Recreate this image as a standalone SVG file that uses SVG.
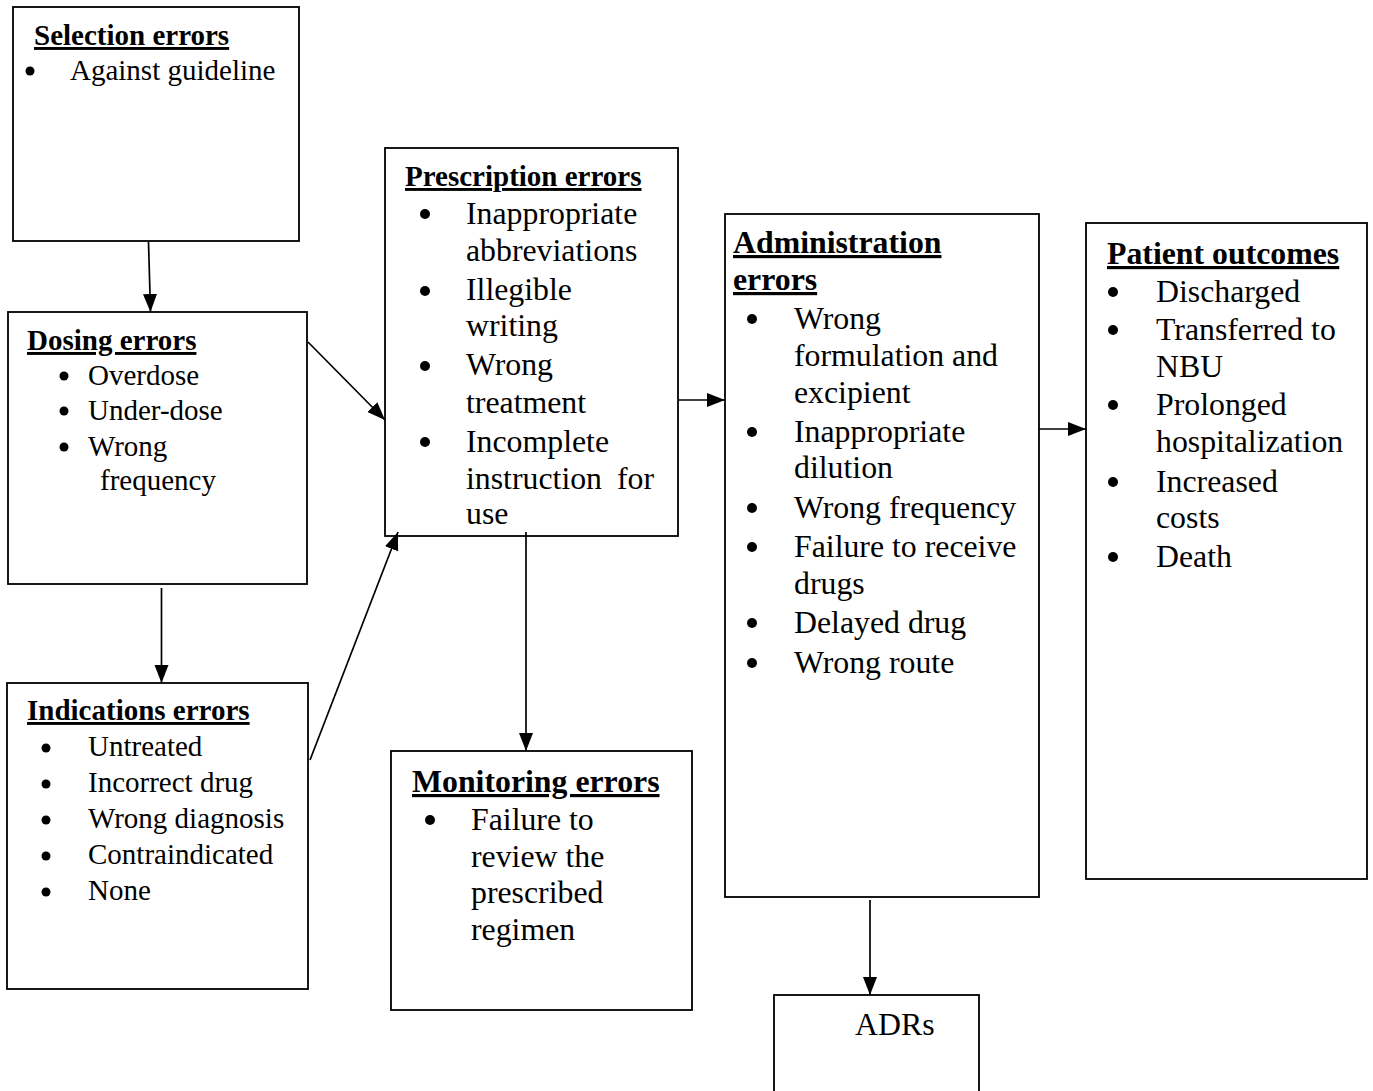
<svg xmlns="http://www.w3.org/2000/svg" width="1373" height="1091" viewBox="0 0 1373 1091">
<style>
.box{fill:#fff;stroke:#000;stroke-width:1.8}
text{font-family:"Liberation Serif","Times New Roman",serif;fill:#000}
.h{font-weight:bold;text-decoration:underline}
.s29{font-size:29px}
.s32{font-size:31.8px}
.c{stroke:#000;stroke-width:1.7;fill:none}
.b{fill:#000}
</style>
<defs>
<marker id="ah" markerUnits="userSpaceOnUse" markerWidth="18" markerHeight="16" viewBox="0 0 18 16" refX="18" refY="8" orient="auto">
<path d="M0,1 L18,8 L0,15 Z" fill="#000"/>
</marker>
</defs>
<rect width="1373" height="1091" fill="#fff"/>

<g id="selection">
<rect class="box" x="13" y="7" width="286" height="234"/>
<text class="h s29" x="34" y="45">Selection errors</text>
<circle class="b" cx="30" cy="71" r="4.5"/>
<text class="s29" x="70" y="80">Against guideline</text>
</g>

<g id="dosing">
<rect class="box" x="8" y="312" width="299" height="272"/>
<text class="h s29" x="27" y="350">Dosing errors</text>
<circle class="b" cx="64" cy="376" r="4.5"/>
<text class="s29" x="88" y="385">Overdose</text>
<circle class="b" cx="64" cy="411" r="4.5"/>
<text class="s29" x="88" y="420">Under-dose</text>
<circle class="b" cx="64" cy="447" r="4.5"/>
<text class="s29" x="88" y="456">Wrong</text>
<text class="s29" x="100" y="490">frequency</text>
</g>

<g id="indications">
<rect class="box" x="7" y="683" width="301" height="306"/>
<text class="h s29" x="27" y="720">Indications errors</text>
<circle class="b" cx="46" cy="748" r="4.5"/>
<text class="s29" x="88" y="756">Untreated</text>
<circle class="b" cx="46" cy="784" r="4.5"/>
<text class="s29" x="88" y="792">Incorrect drug</text>
<circle class="b" cx="46" cy="820" r="4.5"/>
<text class="s29" x="88" y="828">Wrong diagnosis</text>
<circle class="b" cx="46" cy="856" r="4.5"/>
<text class="s29" x="88" y="864">Contraindicated</text>
<circle class="b" cx="46" cy="892" r="4.5"/>
<text class="s29" x="88" y="900">None</text>
</g>

<g id="prescription">
<rect class="box" x="385" y="148" width="293" height="388"/>
<text class="h s29" x="405" y="186">Prescription errors</text>
<circle class="b" cx="425" cy="214" r="5"/>
<text class="s32" x="466" y="224">Inappropriate</text>
<text class="s32" x="466" y="261">abbreviations</text>
<circle class="b" cx="425" cy="291" r="5"/>
<text class="s32" x="466" y="300">Illegible</text>
<text class="s32" x="466" y="336">writing</text>
<circle class="b" cx="425" cy="366" r="5"/>
<text class="s32" x="466" y="375">Wrong</text>
<text class="s32" x="466" y="413">treatment</text>
<circle class="b" cx="425" cy="442" r="5"/>
<text class="s32" x="466" y="452">Incomplete</text>
<text class="s32" x="466" y="489">instruction <tspan x="617">for</tspan></text>
<text class="s32" x="466" y="524">use</text>
</g>

<g id="monitoring">
<rect class="box" x="391" y="751" width="301" height="259"/>
<text class="h s32" x="412" y="792">Monitoring errors</text>
<circle class="b" cx="430" cy="820" r="5"/>
<text class="s32" x="471" y="830">Failure to</text>
<text class="s32" x="471" y="867">review the</text>
<text class="s32" x="471" y="903">prescribed</text>
<text class="s32" x="471" y="940">regimen</text>
</g>

<g id="administration">
<rect class="box" x="725" y="214" width="314" height="683"/>
<text class="h s32" x="733" y="253">Administration</text>
<text class="h s32" x="733" y="290">errors</text>
<circle class="b" cx="752" cy="319" r="5"/>
<text class="s32" x="794" y="329">Wrong</text>
<text class="s32" x="794" y="366">formulation and</text>
<text class="s32" x="794" y="403">excipient</text>
<circle class="b" cx="752" cy="432" r="5"/>
<text class="s32" x="794" y="442">Inappropriate</text>
<text class="s32" x="794" y="478">dilution</text>
<circle class="b" cx="752" cy="508" r="5"/>
<text class="s32" x="794" y="518">Wrong frequency</text>
<circle class="b" cx="752" cy="547" r="5"/>
<text class="s32" x="794" y="557">Failure to receive</text>
<text class="s32" x="794" y="594">drugs</text>
<circle class="b" cx="752" cy="623" r="5"/>
<text class="s32" x="794" y="633">Delayed drug</text>
<circle class="b" cx="752" cy="663" r="5"/>
<text class="s32" x="794" y="673">Wrong route</text>
</g>

<g id="outcomes">
<rect class="box" x="1086" y="223" width="281" height="656"/>
<text class="h s32" x="1107" y="264">Patient outcomes</text>
<circle class="b" cx="1113" cy="292" r="5"/>
<text class="s32" x="1156" y="302">Discharged</text>
<circle class="b" cx="1113" cy="330" r="5"/>
<text class="s32" x="1156" y="340">Transferred to</text>
<text class="s32" x="1156" y="377">NBU</text>
<circle class="b" cx="1113" cy="405" r="5"/>
<text class="s32" x="1156" y="415">Prolonged</text>
<text class="s32" x="1156" y="452">hospitalization</text>
<circle class="b" cx="1113" cy="482" r="5"/>
<text class="s32" x="1156" y="492">Increased</text>
<text class="s32" x="1156" y="528">costs</text>
<circle class="b" cx="1113" cy="557" r="5"/>
<text class="s32" x="1156" y="567">Death</text>
</g>

<g id="adrs">
<rect class="box" x="774" y="995" width="205" height="110"/>
<text class="s32" x="855" y="1035">ADRs</text>
</g>

<g id="connectors">
<line class="c" x1="148.5" y1="242" x2="150.5" y2="312" marker-end="url(#ah)"/>
<line class="c" x1="161.5" y1="588" x2="161.5" y2="683" marker-end="url(#ah)"/>
<line class="c" x1="308" y1="342" x2="385" y2="420" marker-end="url(#ah)"/>
<line class="c" x1="310" y1="760" x2="398" y2="532" marker-end="url(#ah)"/>
<line class="c" x1="678" y1="400" x2="725" y2="400" marker-end="url(#ah)"/>
<line class="c" x1="526" y1="532" x2="526" y2="751" marker-end="url(#ah)"/>
<line class="c" x1="1039" y1="429" x2="1086" y2="429" marker-end="url(#ah)"/>
<line class="c" x1="870" y1="900" x2="870" y2="995" marker-end="url(#ah)"/>
</g>
</svg>
